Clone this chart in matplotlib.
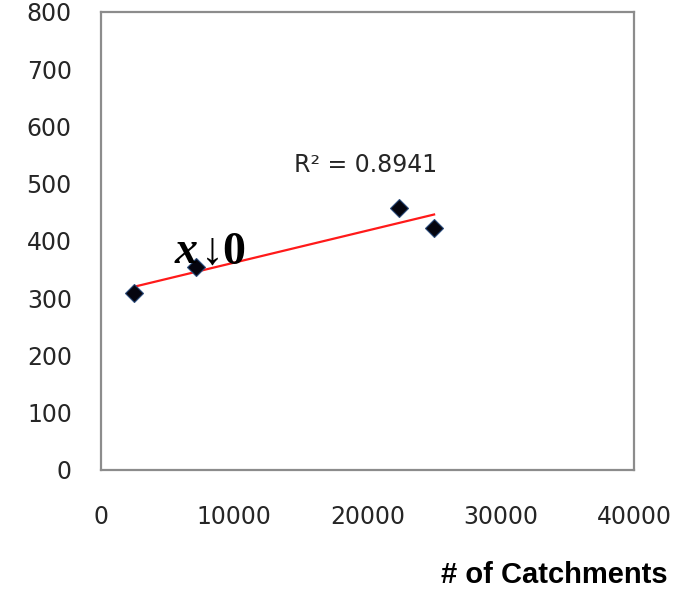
import numpy as np
import matplotlib.pyplot as plt

# catchment counts vs. measured value
catchments = [2500, 7100, 22400, 25000]
values = [310, 355, 457, 422]
r2_label = 'R\u00b2 = 0.8941'
x_ticks = [0, 10000, 20000, 30000, 40000]
y_ticks = [0, 100, 200, 300, 400, 500, 600, 700, 800]

plt.rcParams['font.family'] = ['DejaVu Sans']

fig = plt.figure(figsize=(6.8, 5.9), dpi=100)
ax = fig.add_axes([0.1485, 0.2034, 0.7838, 0.7763])

# linear trend line over the data range
slope, intercept = np.polyfit(catchments, values, 1)
xfit = np.array([min(catchments), max(catchments)])
ax.plot(xfit, slope * xfit + intercept, color='#ff1a1a', lw=1.6, zorder=2)

ax.plot(catchments, values, linestyle='none', marker='D', ms=9.5,
        color='#05050f', markeredgecolor='#2a4a7a', markeredgewidth=0.8,
        zorder=3)

ax.text(14500, 533, r2_label, fontsize=17, color='#262626',
        va='center', ha='left')

# stray equation label
ax.text(5550, 361, 'x', fontsize=33, family='Liberation Serif',
        fontweight='bold', style='italic', va='baseline', ha='left',
        zorder=4)
ax.annotate('\u21930', xy=(5550, 361), xytext=(19, 0),
            textcoords='offset points', fontsize=33,
            family='Liberation Serif', fontweight='bold',
            va='baseline', ha='left', zorder=4)

ax.set_xlim(0, 40000)
ax.set_ylim(0, 800)
ax.set_xticks(x_ticks)
ax.set_yticks(y_ticks)
ax.tick_params(length=0, labelsize=17, labelcolor='#262626')
ax.tick_params(axis='y', pad=21)
ax.tick_params(axis='x', pad=25)

for s in ax.spines.values():
    s.set_color('#8c8c8c')
    s.set_linewidth(1.6)

fig.text(0.982, 0.0254, '# of Catchments', fontsize=21, fontweight='bold',
         family='Liberation Sans', ha='right', va='center')

fig.savefig('out.png', dpi=100)
